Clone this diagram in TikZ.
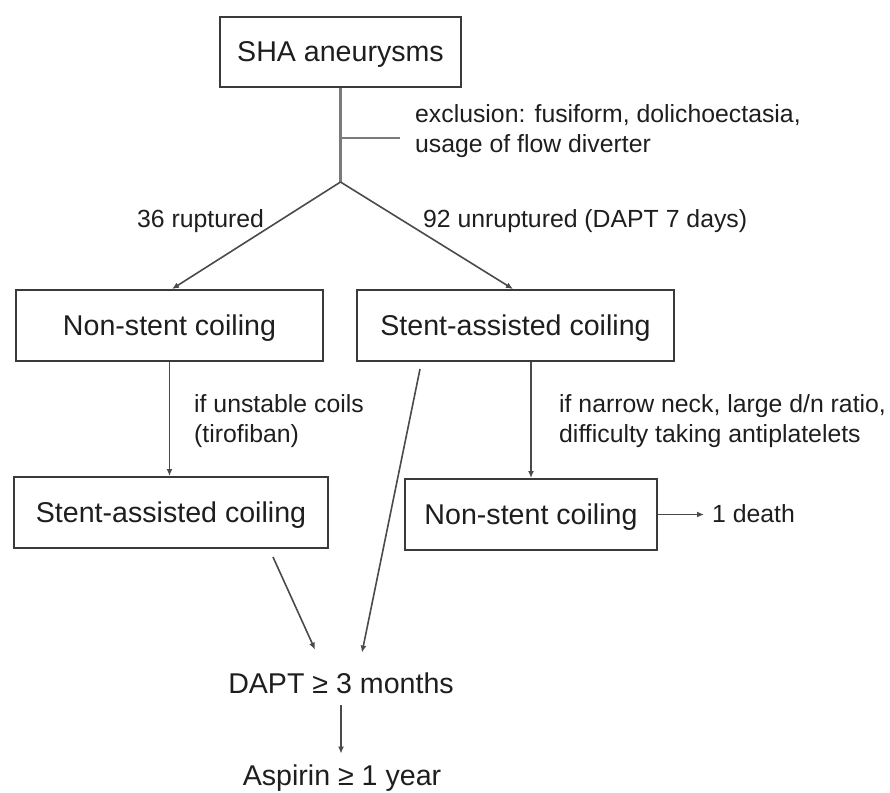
\documentclass[tikz,border=0pt]{standalone}
\usepackage{fontspec}
\setmainfont{Liberation Sans}
\usetikzlibrary{arrows.meta}
\newcommand\boxfont{\fontsize{28.6}{34}\selectfont}
\newcommand\labfont{\fontsize{24.8}{30}\selectfont}
\definecolor{boxc}{HTML}{3A3A3A}
\definecolor{linec}{HTML}{4A4A4A}
\definecolor{topc}{HTML}{7A7A7A}
\definecolor{txtc}{HTML}{1E1E1E}
\begin{document}
\begin{tikzpicture}[x=1pt,y=-1pt,
  box/.style={draw=boxc, line width=2pt, inner sep=0pt, text height=21pt, text depth=1pt, font=\boxfont, text=txtc},
  plain/.style={font=\boxfont, text=txtc, inner sep=0pt, anchor=base},
  lab/.style={font=\labfont, text=txtc, inner sep=0pt, anchor=base west},
  topline/.style={draw=topc, line width=2.4pt},
  arr/.style={draw=linec, line width=1.6pt, -{Latex[length=7pt,width=6pt]}}]
\useasboundingbox (0,0) rectangle (890,792);
% boxes
\node[box, minimum width=241pt, minimum height=70pt] (sha) at (340.5,52) {SHA aneurysms};
\node[box, minimum width=307pt, minimum height=71pt] (nsc1) at (169.5,325.5) {Non-stent coiling};
\node[box, minimum width=317pt, minimum height=71pt] (sac1) at (515.5,325.5) {Stent-assisted coiling};
\node[box, minimum width=314pt, minimum height=71pt] (sac2) at (171,512.5) {Stent-assisted coiling};
\node[box, minimum width=252pt, minimum height=71pt] (nsc2) at (531,514.5) {Non-stent coiling};
\node[plain] (dapt) at (341,693) {DAPT ≥ 3 months};
\node[plain] (asp) at (342,785) {Aspirin ≥ 1 year};
\node[lab] (death) at (712,522) {1 death};
% labels
\node[lab] (excl) at (415,122) {\begin{tabular}[t]{@{}l@{}}exclusion: fusiform, dolichoectasia,\\ usage of flow diverter\end{tabular}};
\node[lab] (rup) at (137,227) {36 ruptured};
\node[lab] (unrup) at (423,227) {92 unruptured (DAPT 7 days)};
\node[lab] (unst) at (194,412) {\begin{tabular}[t]{@{}l@{}}if unstable coils\\ (tirofiban)\end{tabular}};
\node[lab] (narrow) at (559,412) {\begin{tabular}[t]{@{}l@{}}if narrow neck, large d/n ratio,\\ difficulty taking antiplatelets\end{tabular}};
% coordinates
\coordinate (apex) at (340.5,182);
\coordinate (brA) at (340.5,138);
\coordinate (brB) at (400,138);
\coordinate (s1) at (420,369);
\coordinate (s2) at (273,557);
% connectors
\draw[topline] (sha.south) -- (apex);
\draw[topline] (brA) -- (brB);
\draw[arr] (apex) -- ([xshift=2.5pt]nsc1.north);
\draw[arr] (apex) -- ([xshift=-2.5pt]sac1.north);
\draw[arr] (nsc1.south) -- (nsc1.south |- sac2.north);
\draw[arr] (nsc2.north |- sac1.south) -- (nsc2.north);
\draw[arr] (nsc2.east) -- ([xshift=-8pt]death.west |- nsc2.east);
\draw[arr] (s2) -- ([xshift=-26pt,yshift=22.5pt]dapt.north);
\draw[arr] (s1) -- ([xshift=21pt,yshift=19.5pt]dapt.north);
\draw[arr, shorten <=12pt, shorten >=10.5pt] (dapt.south) -- (dapt.south |- asp.north);
\end{tikzpicture}
\end{document}
